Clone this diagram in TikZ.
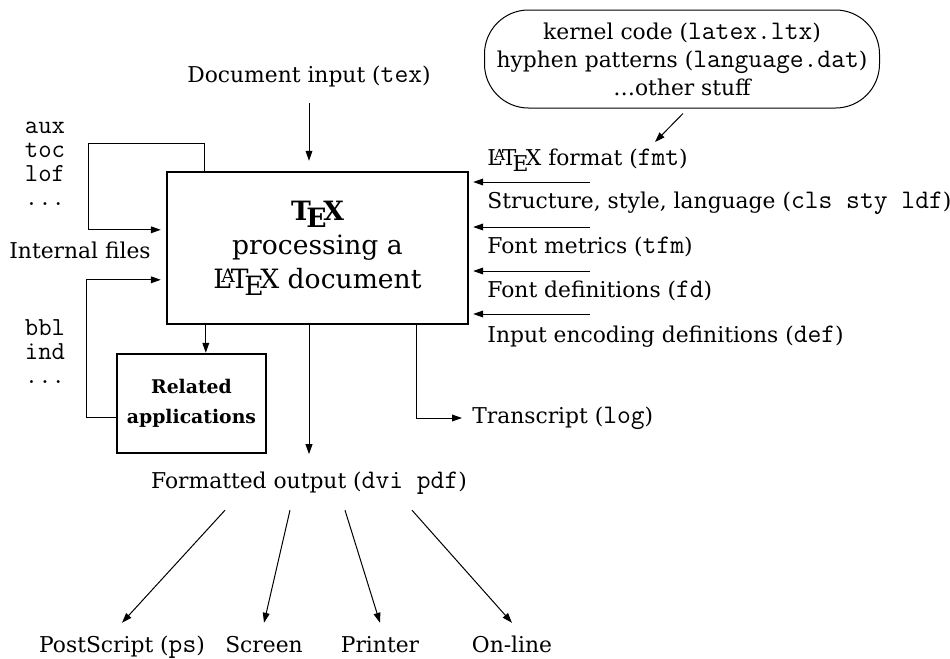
\documentclass[tikz,border=0pt]{standalone}
\usepackage{fontspec}
\setmainfont{DejaVu Serif}
\usetikzlibrary{arrows.meta}
\newcommand{\fname}[1]{{\ttfamily\fontsize{13.4}{14}\selectfont #1}}
\tikzset{
  arr/.style={-{Triangle[length=5pt,width=3.4pt]}, line width=0.5pt},
  lbl/.style={inner sep=0pt, text height=8.2pt, text depth=2.6pt, font=\fontsize{10.9}{13}\selectfont},
  flist/.style={inner sep=0pt, align=left, font=\ttfamily\fontsize{13}{12}\selectfont},
  bigbox/.style={draw, line width=1.2pt, minimum width=150.5pt, minimum height=76pt, align=center, font=\fontsize{13.3}{17}\selectfont},
  appbox/.style={draw, line width=1.2pt, minimum width=74.5pt, minimum height=49.5pt, align=center, font=\fontsize{9.4}{15}\selectfont\bfseries},
  blob/.style={draw, line width=0.5pt, rounded corners=22pt, minimum width=197.5pt, minimum height=49pt, align=center, font=\fontsize{10.9}{14}\selectfont}
}
\begin{document}
\begin{tikzpicture}[x=0.5pt,y=-0.5pt]
    \useasboundingbox (0,0) rectangle (950,659);
    \node[bigbox] (T) at (317.5,248) {\textbf{\TeX}\\processing a\\\LaTeX{} document};
    \node[appbox] (R) at (191.5,403.5) {Related\\applications};
    \node[blob] (K) at (682,59) {kernel code (\fname{latex.ltx})\\hyphen patterns (\fname{language.dat})\\\ldots other stuff};
    \node[lbl] (D) at (309,77) {Document input (\fname{tex})};
    \node[lbl] (I) at (80,253) {Internal files};
    \node[flist] (A) at (45,164) {aux\\toc\\lof\\...};
    \node[flist] (B) at (45,352) {bbl\\ind\\...};
    \node[lbl, anchor=west] (F) at (487,160) {\LaTeX{} format (\fname{fmt})};
    \node[lbl, anchor=west] (C) at (487,203) {Structure, style, language (\fname{cls sty ldf})};
    \node[lbl, anchor=west] (M) at (487,248) {Font metrics (\fname{tfm})};
    \node[lbl, anchor=west] (FD) at (487,292) {Font definitions (\fname{fd})};
    \node[lbl, anchor=west] (E) at (487,337) {Input encoding definitions (\fname{def})};
    \node[lbl, anchor=west] (L) at (472,418) {Transcript (\fname{log})};
    \node[lbl] (O) at (309,483) {Formatted output (\fname{dvi pdf})};
    \node[lbl] (P1) at (122,647) {PostScript (\fname{ps})};
    \node[lbl] (P2) at (264,647) {Screen};
    \node[lbl] (P3) at (380,647) {Printer};
    \node[lbl] (P4) at (512,647) {On-line};
    \coordinate (Kt) at (655,142);
    \coordinate (Lp) at (88,143);
    \foreach \y [count=\i] in {182,227,271,314}
        \coordinate (in\i) at (590,\y);
    \draw[arr] ([xshift=0.5pt,yshift=-2.5pt]K.south) -- (Kt);
    \draw[arr, shorten <=7.5pt, shorten >=5pt] (D.south) -- (D.south |- T.north);
    \foreach \i in {1,...,4}
        \draw[arr, shorten >=2pt] (in\i) -- (in\i -| T.east);
    \draw[arr, shorten >=2.5pt] ([xshift=19.5pt]T.north west) |- (Lp) |- ([yshift=-29.5pt]T.north west);
    \draw[arr, shorten >=2.5pt] ([yshift=-6.75pt]R.west) -- ++(-29,0) |- ([yshift=-54.5pt]T.north west);
    \draw[arr] ([xshift=20pt]T.south west) -- ([xshift=20pt]T.south west |- R.north);
    \draw[arr] (D |- T.south) -- (D |- R.south);
    \draw[arr, shorten >=5pt] ([xshift=125.5pt]T.south west) |- (L.west);
    \draw[arr] ([xshift=-42pt,yshift=-8pt]O.south) -- ([yshift=6.5pt]P1.north);
    \draw[arr] ([xshift=-9.5pt,yshift=-8pt]O.south) -- ([yshift=6.5pt]P2.north);
    \draw[arr] ([xshift=18pt,yshift=-8pt]O.south) -- ([yshift=6.5pt]P3.north);
    \draw[arr] ([xshift=51.5pt,yshift=-8pt]O.south) -- ([yshift=6.5pt]P4.north);
\end{tikzpicture}
\end{document}
